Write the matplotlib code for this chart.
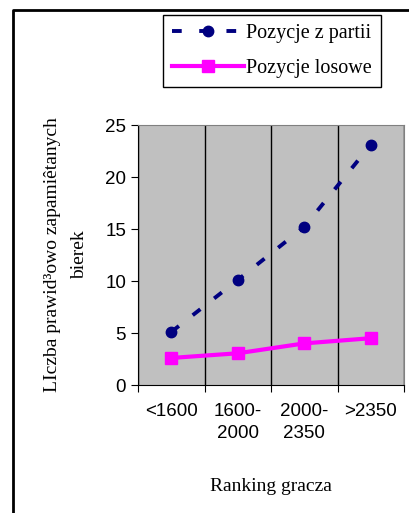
import matplotlib
matplotlib.use('Agg')
import matplotlib.pyplot as plt
from matplotlib.lines import Line2D

# dane
categories = ['<1600', '1600-\n2000', '2000-\n2350', '>2350']
z_partii = [5.1, 10.1, 15.2, 23.1]
losowe = [2.6, 3.05, 4.0, 4.5]

serif = 'Liberation Serif'
sans = 'Liberation Sans'

fig = plt.figure(figsize=(4.09, 5.13), dpi=100)
ax = fig.add_axes([138/409, 1-385/513, (404-138)/409, (385-125)/513])
ax.set_facecolor('#C0C0C0')

x = list(range(len(categories)))
ax.plot(x, z_partii, color='#000080', linestyle=(0, (2.5, 4.5)), linewidth=2.8,
        marker='o', markersize=7.5, label='Pozycje z partii')
ax.plot(x, losowe, color='#FF00FF', linestyle='-', linewidth=3,
        marker='s', markersize=8.5, label='Pozycje losowe')

ax.set_xlim(-0.5, len(categories) - 0.5)
ax.set_ylim(0, 25)
ax.set_yticks([0, 5, 10, 15, 20, 25])
ax.set_xticks([i - 0.5 for i in range(len(categories) + 1)])
ax.set_xticklabels([])
ax.set_xticks(x, minor=True)
ax.set_xticklabels(categories, minor=True, fontfamily=sans, fontsize=13.5,
                   linespacing=1.35)
ax.tick_params(axis='x', which='minor', length=0, pad=13)
ax.tick_params(axis='x', which='major', length=5, direction='out', color='black')
ax.tick_params(axis='y', length=5, direction='out', labelsize=13.5)
for lbl in ax.get_yticklabels():
    lbl.set_fontfamily(sans)
ax.xaxis.grid(True, which='major', color='black', linewidth=1)

ax.spines['left'].set_color('black')
ax.spines['bottom'].set_color('black')
ax.spines['top'].set_color('#808080')
ax.spines['right'].set_color('#808080')

ax.set_xlabel('Ranking gracza', fontfamily=serif, fontsize=14, labelpad=26)
fig.text(66/409, 1-255/513, 'LIczba prawid\u00b3owo zapami\u00eatanych\nbierek',
         rotation=90, ha='center', va='center', multialignment='center',
         fontfamily=serif, fontsize=14, linespacing=1.8)

leg = fig.legend(loc='upper right', bbox_to_anchor=(381/409, 1-15/513),
                 prop={'family': serif, 'size': 14.5}, frameon=True,
                 fancybox=False, edgecolor='black', framealpha=1,
                 handlelength=3.6, borderpad=0.45, labelspacing=0.8,
                 handletextpad=0.1, borderaxespad=0)
leg.get_frame().set_linewidth(1)

# ramka wykresu
fig.add_artist(Line2D([13/409, 13/409, 1.0], [0.0, 1-10/513, 1-10/513],
                      color='black', linewidth=2, transform=fig.transFigure))

fig.savefig('out.png', dpi=100)
